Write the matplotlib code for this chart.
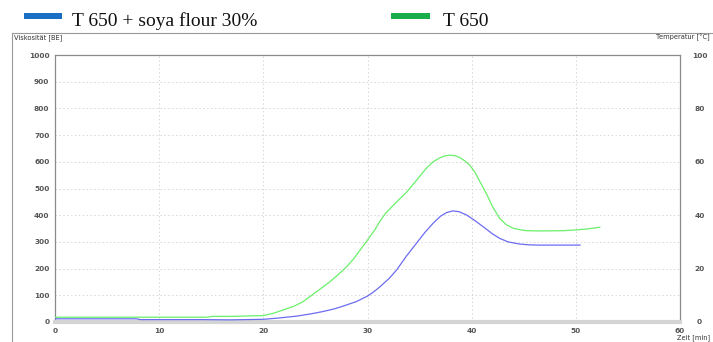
import matplotlib
matplotlib.use("Agg")
import matplotlib.pyplot as plt
from matplotlib.patches import Rectangle
from matplotlib.lines import Line2D

# Data
series_names = ["T 650 + soya flour 30%", "T 650"]

t_soya = [0, 2, 4, 6, 7.8, 8.2, 10, 14, 16.8, 20, 21.5, 23.2, 24.5, 25.7, 26.8, 27.7,
          28.9, 30, 30.6, 31.2, 32.1, 32.8, 33.7, 34.7, 35.5, 36.3, 37.0, 37.6, 38.2,
          38.8, 39.5, 40.2, 41.1, 42.0, 42.7, 43.5, 44.6, 45.5, 46.5, 48, 50.4]
v_soya = [12, 12, 12, 12, 12, 9, 9, 9, 8, 10, 15, 22, 30, 39, 49, 60,
          76, 97, 113, 132, 164, 195, 245, 295, 335, 370, 396, 410, 416,
          413, 401, 383, 357, 330, 313, 300, 292, 289, 288, 288, 288]

t_t650 = [0, 3, 6, 10, 14.7, 15.0, 16.8, 20, 21.0, 21.9, 23.0, 23.8, 25.1, 26.4, 27.2, 28,
          28.7, 29.3, 30, 30.7, 31.2, 31.8, 32.8, 33.8, 35.0, 35.7, 36.3, 36.9, 37.4, 37.9,
          38.4, 38.9, 39.4, 39.8, 40.3, 40.8, 41.4, 42.0, 42.7, 43.3, 44, 44.7, 45.3, 46.5,
          48.8, 50.1, 51.2, 52.3]
v_t650 = [18, 18, 18, 18, 18, 21, 21, 24, 33, 45, 60, 76, 113, 151, 178, 207,
          238, 270, 307, 345, 378, 410, 450, 488, 545, 578, 600, 614, 622, 625,
          623, 615, 602, 588, 562, 525, 482, 432, 388, 365, 351, 345, 342, 341,
          342, 345, 349, 355]

x_ticks = [0, 10, 20, 30, 40, 50, 60]
y_ticks = [0, 100, 200, 300, 400, 500, 600, 700, 800, 900, 1000]
y2_ticks = [0, 20, 40, 60, 80, 100]

W, H = 713, 342
fig = plt.figure(figsize=(W / 100, H / 100), dpi=100)

def fx(px):
    return px / W

def fy(py):
    return 1 - py / H

ax = fig.add_axes([fx(55), fy(322), fx(680) - fx(55), fy(55) - fy(322)])
ax.set_xlim(0, 60)
ax.set_ylim(0, 1000)

ax.plot(t_t650, v_t650, color="#6aef6a", lw=0.9, zorder=3)
ax.plot(t_soya, v_soya, color="#6c6cf2", lw=0.9, zorder=3)

grid_style = dict(color="#d6d6d6", lw=0.7, ls=(0, (1.5, 2.5)), zorder=1)
for v in [100, 200, 300, 400, 500, 600, 700, 800, 900]:
    ax.axhline(v, **grid_style)
for v in [10, 20, 30, 40, 50]:
    ax.axvline(v, **grid_style)

tick_font = dict(fontsize=5.3, color="#555555", fontweight="bold", family="DejaVu Sans")
ax.set_xticks(x_ticks)
ax.set_xticklabels([str(v) for v in x_ticks], **tick_font)
ax.set_yticks(y_ticks)
ax.set_yticklabels([str(v) for v in y_ticks], **tick_font)
ax.tick_params(axis="both", length=0, pad=4)

for s in ["left", "top", "right"]:
    ax.spines[s].set_color("#8a8a8a")
    ax.spines[s].set_linewidth(0.9)
ax.spines["bottom"].set_color("#d4d4d4")
ax.spines["bottom"].set_linewidth(3)

ax2 = ax.twinx()
ax2.set_ylim(0, 100)
ax2.set_yticks(y2_ticks)
ax2.set_yticklabels([str(v) for v in y2_ticks], ha="center", **tick_font)
ax2.tick_params(axis="y", length=0, pad=14)
for s in ax2.spines.values():
    s.set_visible(False)

# outer frame lines
fig.add_artist(Line2D([fx(12), fx(12)], [fy(33), fy(342)], color="#999999", lw=0.8))
fig.add_artist(Line2D([fx(12), fx(713)], [fy(33), fy(33)], color="#999999", lw=0.8))

small = dict(fontsize=4.8, color="#333333", family="DejaVu Sans")
fig.text(fx(14), fy(38), "Viskosität [BE]", ha="left", va="center", **small)
fig.text(fx(710), fy(37), "Temperatur [°C]", ha="right", va="center", **small)
fig.text(fx(710), fy(338), "Zeit [min]", ha="right", va="center", **small)

# legend
fig.add_artist(Rectangle((fx(24), fy(19)), fx(62) - fx(24), fy(13) - fy(19),
                         facecolor="#1a6fc4", edgecolor="none"))
fig.text(fx(72), fy(21), series_names[0], ha="left", va="center",
         fontsize=14, family="Liberation Serif", color="#111111")
fig.add_artist(Rectangle((fx(391), fy(19)), fx(430) - fx(391), fy(13) - fy(19),
                         facecolor="#1aae4a", edgecolor="none"))
fig.text(fx(443), fy(21), series_names[1], ha="left", va="center",
         fontsize=14, family="Liberation Serif", color="#111111")

fig.savefig("out.png", dpi=100)
